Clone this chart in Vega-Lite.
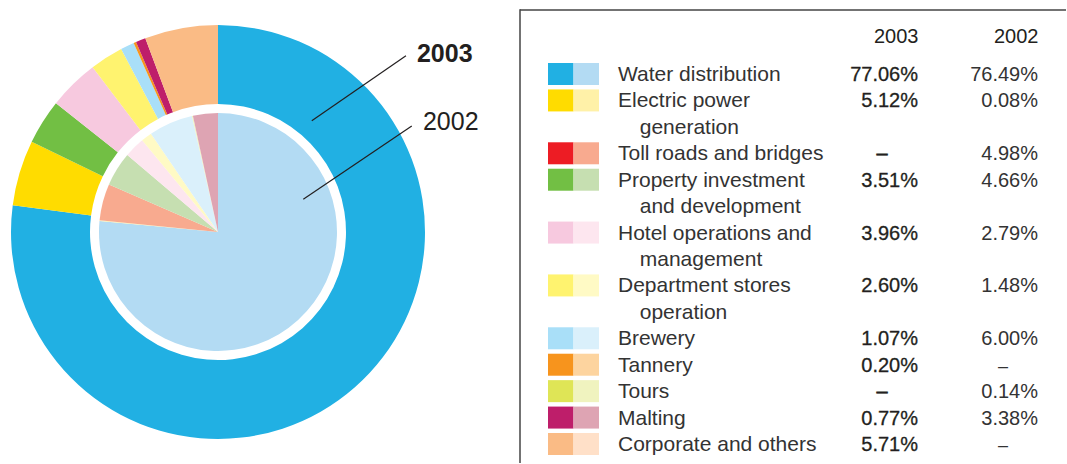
{
  "$schema": "https://vega.github.io/schema/vega-lite/v6.json",
  "padding": 0,
  "spacing": 0,
  "bounds": "flush",
  "background": "white",
  "config": {"view": {"stroke": null}, "font": "Liberation Sans"},
  "datasets": {
    "segments": [
      {"category": "Water distribution", "label": "Water distribution", "v2003": 77.06, "v2002": 76.49},
      {"category": "Electric power generation", "label": "Electric power\n\u200b\u00a0\u00a0\u00a0\u2009generation", "v2003": 5.12, "v2002": 0.08},
      {"category": "Toll roads and bridges", "label": "Toll roads and bridges", "v2003": null, "v2002": 4.98},
      {"category": "Property investment and development", "label": "Property investment\n\u200b\u00a0\u00a0\u00a0\u2009and development", "v2003": 3.51, "v2002": 4.66},
      {"category": "Hotel operations and management", "label": "Hotel operations and\n\u200b\u00a0\u00a0\u00a0\u2009management", "v2003": 3.96, "v2002": 2.79},
      {"category": "Department stores operation", "label": "Department stores\n\u200b\u00a0\u00a0\u00a0\u2009operation", "v2003": 2.60, "v2002": 1.48},
      {"category": "Brewery", "label": "Brewery", "v2003": 1.07, "v2002": 6.00},
      {"category": "Tannery", "label": "Tannery", "v2003": 0.20, "v2002": null},
      {"category": "Tours", "label": "Tours", "v2003": null, "v2002": 0.14},
      {"category": "Malting", "label": "Malting", "v2003": 0.77, "v2002": 3.38},
      {"category": "Corporate and others", "label": "Corporate and others", "v2003": 5.71, "v2002": null}
    ]
  },
  "resolve": {"scale": {"color": "independent", "theta": "independent"}},
  "hconcat": [
    {
      "width": 436,
      "height": 464,
      "data": {"name": "segments"},
      "transform": [{"window": [{"op": "row_number", "as": "idx"}]}],
      "resolve": {"scale": {"color": "independent", "theta": "independent"}},
      "layer": [
        {
          "mark": {"type": "arc", "radius": 207, "radius2": 128},
          "encoding": {
            "theta": {"field": "v2003", "type": "quantitative", "stack": true},
            "order": {"field": "idx", "type": "quantitative"},
            "color": {"field": "category", "type": "nominal", "legend": null,
              "scale": {"domain": ["Water distribution", "Electric power generation", "Toll roads and bridges", "Property investment and development", "Hotel operations and management", "Department stores operation", "Brewery", "Tannery", "Tours", "Malting", "Corporate and others"],
                        "range": ["#21b0e3", "#ffdc00", "#ed1c24", "#72bf44", "#f7c9df", "#fff36f", "#a9dff8", "#f7941d", "#dfe556", "#be1e6a", "#fabb85"]}}
          }
        },
        {
          "mark": {"type": "arc", "radius": 119},
          "encoding": {
            "theta": {"field": "v2002", "type": "quantitative", "stack": true},
            "order": {"field": "idx", "type": "quantitative"},
            "color": {"field": "category", "type": "nominal", "legend": null,
              "scale": {"domain": ["Water distribution", "Electric power generation", "Toll roads and bridges", "Property investment and development", "Hotel operations and management", "Department stores operation", "Brewery", "Tannery", "Tours", "Malting", "Corporate and others"],
                        "range": ["#b3dbf3", "#fff1a8", "#f8aa8f", "#c6dfb1", "#fde6ef", "#fffac5", "#daf0fb", "#fdd49f", "#f0f3bf", "#dea4b3", "#ffe0c8"]}}
          }
        },
        {
          "data": {"values": [{"series": "2003"}]},
          "mark": {"type": "rule", "color": "#231f20", "strokeWidth": 1.2},
          "encoding": {
            "x": {"datum": 0.453, "type": "quantitative", "scale": {"domain": [-1.0531, 1.0531], "nice": false, "zero": false}, "axis": null},
            "y": {"datum": 0.538, "type": "quantitative", "scale": {"domain": [-1.1208, 1.1208], "nice": false, "zero": false}, "axis": null},
            "x2": {"datum": 0.908},
            "y2": {"datum": 0.852}
          }
        },
        {
          "data": {"values": [{"series": "2002"}]},
          "mark": {"type": "rule", "color": "#231f20", "strokeWidth": 1.2},
          "encoding": {
            "x": {"datum": 0.412, "type": "quantitative", "scale": {"domain": [-1.0531, 1.0531], "nice": false, "zero": false}, "axis": null},
            "y": {"datum": 0.158, "type": "quantitative", "scale": {"domain": [-1.1208, 1.1208], "nice": false, "zero": false}, "axis": null},
            "x2": {"datum": 0.936},
            "y2": {"datum": 0.512}
          }
        },
        {
          "data": {"values": [{"series": "2003"}]},
          "mark": {"type": "text", "align": "left", "baseline": "alphabetic", "fontSize": 25, "fontWeight": "bold", "color": "#231f20"},
          "encoding": {
            "x": {"datum": 0.961, "type": "quantitative", "scale": {"domain": [-1.0531, 1.0531], "nice": false, "zero": false}, "axis": null},
            "y": {"datum": 0.821, "type": "quantitative", "scale": {"domain": [-1.1208, 1.1208], "nice": false, "zero": false}, "axis": null},
            "text": {"field": "series"}
          }
        },
        {
          "data": {"values": [{"series": "2002"}]},
          "mark": {"type": "text", "align": "left", "baseline": "alphabetic", "fontSize": 25, "color": "#231f20"},
          "encoding": {
            "x": {"datum": 0.99, "type": "quantitative", "scale": {"domain": [-1.0531, 1.0531], "nice": false, "zero": false}, "axis": null},
            "y": {"datum": 0.493, "type": "quantitative", "scale": {"domain": [-1.1208, 1.1208], "nice": false, "zero": false}, "axis": null},
            "text": {"field": "series"}
          }
        }
      ]
    },
    {
      "width": 631,
      "height": 464,
      "data": {"name": "segments"},
      "resolve": {"scale": {"color": "independent", "y": "independent"}},
      "layer": [
        {
          "data": {"values": [{}]},
          "mark": {"type": "rule", "color": "#444444", "strokeWidth": 1.5},
          "encoding": {
            "x": {"datum": 84, "type": "quantitative", "scale": {"domain": [0, 631], "nice": false, "zero": false},
              "axis": {"orient": "top", "values": [482, 602], "labelExpr": "datum.value == 482 ? '2003' : '2002'", "domain": false, "ticks": false, "grid": false, "title": null, "labelPadding": 0, "offset": -42, "labelBaseline": "alphabetic", "labelAlign": "right", "labelFontSize": 20, "labelFont": "Liberation Sans", "labelColor": "#231f20", "labelFlush": false, "labelOverlap": false}},
            "x2": {"datum": 630},
            "y": {"datum": 10, "type": "quantitative", "scale": {"domain": [0, 464], "reverse": true, "nice": false, "zero": false}, "axis": null}
          }
        },
        {
          "data": {"values": [{}]},
          "mark": {"type": "rule", "color": "#444444", "strokeWidth": 1.5},
          "encoding": {
            "x": {"datum": 84, "type": "quantitative"},
            "y": {"datum": 9.25, "type": "quantitative", "scale": {"domain": [0, 464], "reverse": true, "nice": false, "zero": false}, "axis": null},
            "y2": {"datum": 463}
          }
        },
        {
          "mark": {"type": "rect", "height": 22},
          "encoding": {
            "x": {"datum": 112, "type": "quantitative"},
            "x2": {"datum": 137.5},
            "y": {"field": "category", "type": "nominal", "axis": null,
              "scale": {"type": "point", "padding": 0, "range": [74, 444], "domain": ["Water distribution", "Electric power generation", "_e", "Toll roads and bridges", "Property investment and development", "_p", "Hotel operations and management", "_h", "Department stores operation", "_d", "Brewery", "Tannery", "Tours", "Malting", "Corporate and others"]}},
            "color": {"field": "category", "type": "nominal", "legend": null,
              "scale": {"domain": ["Water distribution", "Electric power generation", "Toll roads and bridges", "Property investment and development", "Hotel operations and management", "Department stores operation", "Brewery", "Tannery", "Tours", "Malting", "Corporate and others"],
                        "range": ["#21b0e3", "#ffdc00", "#ed1c24", "#72bf44", "#f7c9df", "#fff36f", "#a9dff8", "#f7941d", "#dfe556", "#be1e6a", "#fabb85"]}}
          }
        },
        {
          "mark": {"type": "rect", "height": 22},
          "encoding": {
            "x": {"datum": 137.5, "type": "quantitative"},
            "x2": {"datum": 163},
            "y": {"field": "category", "type": "nominal", "axis": null,
              "scale": {"type": "point", "padding": 0, "range": [74, 444], "domain": ["Water distribution", "Electric power generation", "_e", "Toll roads and bridges", "Property investment and development", "_p", "Hotel operations and management", "_h", "Department stores operation", "_d", "Brewery", "Tannery", "Tours", "Malting", "Corporate and others"]}},
            "color": {"field": "category", "type": "nominal", "legend": null,
              "scale": {"domain": ["Water distribution", "Electric power generation", "Toll roads and bridges", "Property investment and development", "Hotel operations and management", "Department stores operation", "Brewery", "Tannery", "Tours", "Malting", "Corporate and others"],
                        "range": ["#b3dbf3", "#fff1a8", "#f8aa8f", "#c6dfb1", "#fde6ef", "#fffac5", "#daf0fb", "#fdd49f", "#f0f3bf", "#dea4b3", "#ffe0c8"]}}
          }
        },
        {
          "mark": {"type": "text", "align": "left", "baseline": "alphabetic", "dy": 7, "fontSize": 21, "lineHeight": 26.43, "lineBreak": "\n", "color": "#333333"},
          "encoding": {
            "x": {"datum": 182, "type": "quantitative"},
            "y": {"field": "category", "type": "nominal", "axis": null,
              "scale": {"type": "point", "padding": 0, "range": [74, 444], "domain": ["Water distribution", "Electric power generation", "_e", "Toll roads and bridges", "Property investment and development", "_p", "Hotel operations and management", "_h", "Department stores operation", "_d", "Brewery", "Tannery", "Tours", "Malting", "Corporate and others"]}},
            "text": {"field": "label"}
          }
        },
        {
          "transform": [{"filter": "datum.v2003 != null"}, {"calculate": "format(datum.v2003, '.2f') + '%'", "as": "t2003"}],
          "mark": {"type": "text", "align": "right", "baseline": "alphabetic", "dy": 7, "fontSize": 20, "color": "#231f20", "stroke": "#231f20", "strokeWidth": 0.3},
          "encoding": {
            "x": {"datum": 482, "type": "quantitative"},
            "y": {"field": "category", "type": "nominal", "axis": null,
              "scale": {"type": "point", "padding": 0, "range": [74, 444], "domain": ["Water distribution", "Electric power generation", "_e", "Toll roads and bridges", "Property investment and development", "_p", "Hotel operations and management", "_h", "Department stores operation", "_d", "Brewery", "Tannery", "Tours", "Malting", "Corporate and others"]}},
            "text": {"field": "t2003"}
          }
        },
        {
          "transform": [{"filter": "datum.v2003 == null"}],
          "mark": {"type": "text", "align": "center", "baseline": "alphabetic", "dy": 7, "fontSize": 20, "color": "#231f20", "stroke": "#231f20", "strokeWidth": 0.6, "text": "–"},
          "encoding": {
            "x": {"datum": 446, "type": "quantitative"},
            "y": {"field": "category", "type": "nominal", "axis": null,
              "scale": {"type": "point", "padding": 0, "range": [74, 444], "domain": ["Water distribution", "Electric power generation", "_e", "Toll roads and bridges", "Property investment and development", "_p", "Hotel operations and management", "_h", "Department stores operation", "_d", "Brewery", "Tannery", "Tours", "Malting", "Corporate and others"]}}
          }
        },
        {
          "transform": [{"filter": "datum.v2002 != null"}, {"calculate": "format(datum.v2002, '.2f') + '%'", "as": "t2002"}],
          "mark": {"type": "text", "align": "right", "baseline": "alphabetic", "dy": 7, "fontSize": 20, "color": "#333333"},
          "encoding": {
            "x": {"datum": 602, "type": "quantitative"},
            "y": {"field": "category", "type": "nominal", "axis": null,
              "scale": {"type": "point", "padding": 0, "range": [74, 444], "domain": ["Water distribution", "Electric power generation", "_e", "Toll roads and bridges", "Property investment and development", "_p", "Hotel operations and management", "_h", "Department stores operation", "_d", "Brewery", "Tannery", "Tours", "Malting", "Corporate and others"]}},
            "text": {"field": "t2002"}
          }
        },
        {
          "transform": [{"filter": "datum.v2002 == null"}],
          "mark": {"type": "text", "align": "center", "baseline": "alphabetic", "dy": 7, "fontSize": 18, "color": "#333333", "text": "–"},
          "encoding": {
            "x": {"datum": 567, "type": "quantitative"},
            "y": {"field": "category", "type": "nominal", "axis": null,
              "scale": {"type": "point", "padding": 0, "range": [74, 444], "domain": ["Water distribution", "Electric power generation", "_e", "Toll roads and bridges", "Property investment and development", "_p", "Hotel operations and management", "_h", "Department stores operation", "_d", "Brewery", "Tannery", "Tours", "Malting", "Corporate and others"]}}
          }
        }
      ]
    }
  ]
}
